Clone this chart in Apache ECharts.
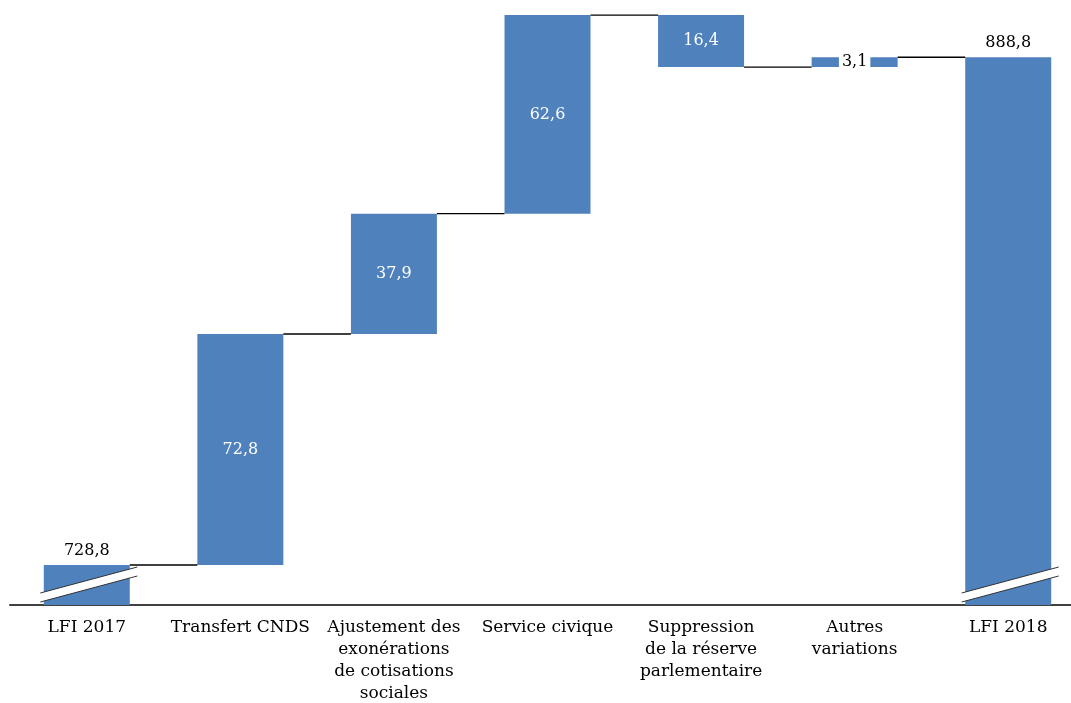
<!DOCTYPE html>
<html>
<head>
<meta charset="utf-8">
<script src="https://cdn.jsdelivr.net/npm/echarts@6/dist/echarts.min.js"></script>
<style>
html,body{margin:0;padding:0;background:#fff;}
#chart{width:1071px;height:703px;}
</style>
</head>
<body>
<div id="chart"></div>
<script>
const categories = ['LFI 2017', 'Transfert CNDS', 'Ajustement des\nexonérations\nde cotisations\nsociales', 'Service civique', 'Suppression\nde la réserve\nparlementaire', 'Autres\nvariations', 'LFI 2018'];
const deltas = [728.8, 72.8, 37.9, 62.6, -16.4, 3.1, 888.8];
const isTotal = [true, false, false, false, false, false, true];
const axisMin = 716.2, axisMax = 904;

const FONT = 'DejaVu Serif';
const BLUE = '#4F81BD';

const base = [], visible = [], levels = [];
let running = 0;
deltas.forEach((d, i) => {
  if (isTotal[i]) { base.push(0); visible.push(d); running = d; }
  else if (d >= 0) { base.push(running); visible.push(d); running += d; }
  else { running += d; base.push(running); visible.push(-d); }
  levels.push(Math.round(running * 10) / 10);
});
const fmt = v => String(Math.abs(v).toFixed(1)).replace('.', ',');

const visData = visible.map((v, i) => {
  let label;
  if (isTotal[i]) label = { show: true, position: 'top', distance: 6, color: '#000' };
  else if (Math.abs(deltas[i]) < 5) label = { show: true, position: 'inside', color: '#000', backgroundColor: '#fff', padding: [2, 3] };
  else label = { show: true, position: 'inside', color: '#fff' };
  return { value: v, label: label };
});

const BAR_RATIO = 0.56;
const connectors = [];
for (let i = 0; i < categories.length - 1; i++) connectors.push([i, levels[i]]);

const chart = echarts.init(document.getElementById('chart'), null, { renderer: 'canvas' });
chart.setOption({
  animation: false,
  textStyle: { fontFamily: FONT },
  grid: { left: 10, width: 1075, top: 9, bottom: 98, outerBoundsMode: 'none', containLabel: false },
  xAxis: {
    type: 'category',
    data: categories,
    axisTick: { show: false },
    axisLine: { lineStyle: { color: '#404040', width: 2 } },
    axisLabel: { interval: 0, color: '#000', fontFamily: FONT, fontSize: 17, lineHeight: 22, margin: 12 }
  },
  yAxis: { type: 'value', min: axisMin, max: axisMax, show: false, splitLine: { show: false } },
  series: [
    { type: 'bar', stack: 'w', data: base, itemStyle: { color: 'transparent' }, barWidth: (BAR_RATIO * 100) + '%', silent: true },
    { type: 'bar', stack: 'w', data: visData, itemStyle: { color: BLUE },
      label: { fontFamily: FONT, fontSize: 16, formatter: p => fmt(deltas[p.dataIndex]) } },
    { type: 'custom', z: 5, data: connectors,
      renderItem: (params, api) => {
        const p = api.coord([api.value(0), api.value(1)]);
        const bw = api.size([1, 0])[0];
        const hb = bw * BAR_RATIO / 2;
        return { type: 'line', shape: { x1: p[0] + hb, y1: p[1], x2: p[0] + bw - hb, y2: p[1] },
          style: { stroke: '#000', lineWidth: 1.3 } };
      } },
    { type: 'custom', z: 6, data: [[0, axisMin], [6, axisMin]],
      renderItem: (params, api) => {
        const p = api.coord([api.value(0), api.value(1)]);
        const cx = p[0], y0 = p[1];
        const ax = cx - 46.5, bx = cx + 50.5;
        const u1 = [ax, y0 - 12], u2 = [bx, y0 - 38], l1 = [ax, y0 - 3], l2 = [bx, y0 - 29];
        return { type: 'group', children: [
          { type: 'polygon', shape: { points: [u1, u2, l2, l1] }, style: { fill: '#fff' } },
          { type: 'line', shape: { x1: u1[0], y1: u1[1], x2: u2[0], y2: u2[1] }, style: { stroke: '#333', lineWidth: 1 } },
          { type: 'line', shape: { x1: l1[0], y1: l1[1], x2: l2[0], y2: l2[1] }, style: { stroke: '#333', lineWidth: 1 } }
        ] };
      } }
  ]
});
</script>
</body>
</html>
